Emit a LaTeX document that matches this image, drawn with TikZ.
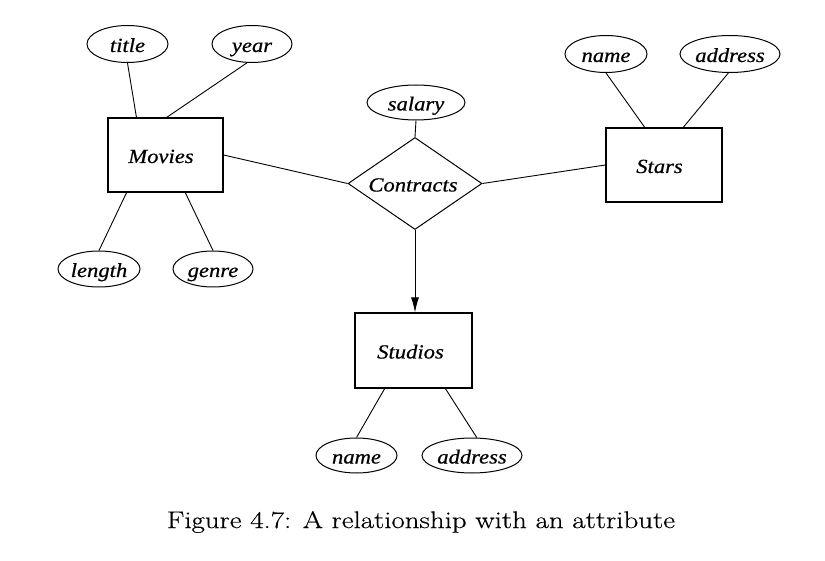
\documentclass[tikz,border=0pt]{standalone}
\usepackage{fontspec}
\usepackage{graphicx}
\usetikzlibrary{shapes.geometric,arrows.meta,calc}
\newfontfamily\lblfont[FakeBold=0.6]{Liberation Serif}
\newfontfamily\capfont[FakeBold=0.4]{Latin Modern Roman}
\newcommand{\lbl}[1]{\scalebox{1.13}[1]{\lblfont\itshape #1}}
\begin{document}
\begin{tikzpicture}[x=1pt,y=-1pt,line width=0.9pt,
  lbltext/.style={font=\fontsize{20}{24}\selectfont, text height=16pt, text depth=0pt},
  entity/.style={draw, rectangle, inner sep=0pt, line width=1.2pt, lbltext},
  attr/.style={draw, ellipse, inner sep=0pt, line width=1pt, lbltext},
  rel/.style={draw, diamond, inner sep=0pt, line width=1pt, lbltext},
  conn/.style={line width=0.9pt}]
\useasboundingbox (0,0) rectangle (825,561);

% entities
\node[entity, minimum width=115pt, minimum height=74pt] (movies) at (165.5,155) {\lbl{Movies}\hspace*{9pt}};
\node[entity, minimum width=116pt, minimum height=74pt] (stars) at (664,165) {\lbl{Stars}\hspace*{9pt}};
\node[entity, minimum width=117pt, minimum height=75pt] (studios) at (413.5,350.5) {\lbl{Studios}\hspace*{6pt}};

% relationship
\node[rel, minimum width=134pt, minimum height=92pt, shape aspect=1.46] (contracts) at (415,183.5) {\lbl{Contracts}\hspace*{4pt}};

% attributes
\node[attr, minimum width=81pt, minimum height=37pt] (title) at (127.5,44) {\lbl{title}};
\node[attr, minimum width=80pt, minimum height=37pt] (year) at (252,44) {\lbl{year}};
\node[attr, minimum width=82pt, minimum height=36pt] (length) at (99,269) {\lbl{length}};
\node[attr, minimum width=80pt, minimum height=36pt] (genre) at (213,269) {\lbl{genre}};
\node[attr, minimum width=98pt, minimum height=35pt] (salary) at (416,102.5) {\lbl{salary}};
\node[attr, minimum width=82pt, minimum height=37pt] (sname) at (606,54) {\lbl{name}};
\node[attr, minimum width=100pt, minimum height=37pt] (saddr) at (730,54) {\lbl{address}};
\node[attr, minimum width=81pt, minimum height=35pt] (stname) at (356.5,455.5) {\lbl{name}};
\node[attr, minimum width=100pt, minimum height=35pt] (staddr) at (472,455.5) {\lbl{address}};

% caption
\node[inner sep=0pt, font=\fontsize{24}{28}\selectfont] (caption) at (421,522)
  {\resizebox{508pt}{\height}{\capfont Figure 4.7: A relationship with an attribute}};

% connectors
\draw[conn] (title.south) -- ($(movies.north west)!0.25!(movies.north east)$);
\draw[conn] (year.255) -- ($(movies.north west)!0.51!(movies.north east)$);
\draw[conn] ($(movies.south west)!0.165!(movies.south east)$) -- (length.north);
\draw[conn] ($(movies.south west)!0.67!(movies.south east)$) -- (genre.north);
\draw[conn] (movies.east) -- (contracts.west);
\draw[conn] (salary.south) -- (contracts.north);
\draw[conn] (contracts.east) -- (stars.west);
\draw[conn, -{Latex[length=15pt,width=8pt]}] (contracts.south) -- (contracts.south |- studios.north);
\draw[conn] (sname.south) -- ($(stars.north west)!0.336!(stars.north east)$);
\draw[conn] (saddr.265) -- ($(stars.north west)!0.664!(stars.north east)$);
\draw[conn] ($(studios.south west)!0.256!(studios.south east)$) -- (stname.north);
\draw[conn] ($(studios.south west)!0.77!(studios.south east)$) -- (staddr.75);
\end{tikzpicture}
\end{document}
